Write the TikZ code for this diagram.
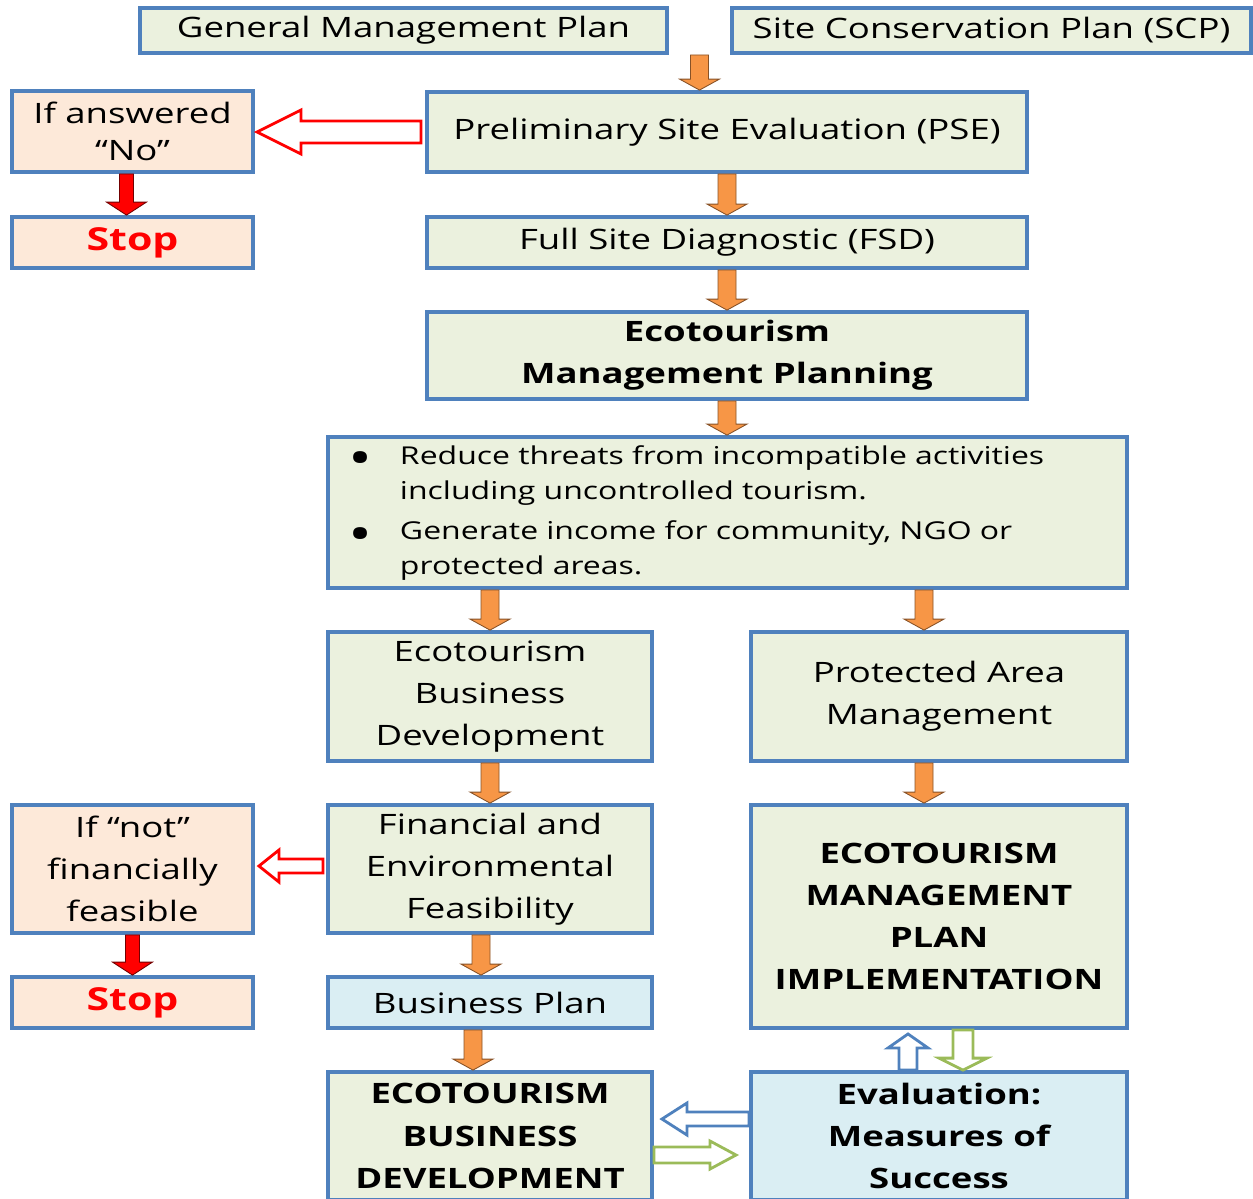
\documentclass[tikz,border=0pt]{standalone}
\usepackage{graphicx}
\usepackage{fontspec}
\setmainfont{Open Sans}[FakeStretch=1.3]
\usetikzlibrary{calc}

\definecolor{boxblue}{HTML}{4F81BD}
\definecolor{boxgreen}{HTML}{EBF1DE}
\definecolor{boxpeach}{HTML}{FDE9D9}
\definecolor{boxcyan}{HTML}{DAEEF3}
\definecolor{arrorange}{HTML}{F79646}
\definecolor{arrgreen}{HTML}{9BBB59}

\newcommand{\bigbullet}{\smash{\raisebox{-0.45em}{\scalebox{2}{\textbullet}}}}

\tikzset{
  shaftw/.store in=\shaftw, headw/.store in=\headw, headl/.store in=\headl,
  shaftw=0.18cm, headw=0.4cm, headl=0.22cm,
  % block arrow between two points
  blockarrow/.style={to path={
    let \p1=(\tikztostart), \p2=(\tikztotarget),
        \p3=($(\p2)!\headl!(\p1)$) in
    ($(\p1)!\shaftw!90:(\p2)$) -- ($(\p3)!\shaftw!90:(\p2)$)
    -- ($(\p3)!\headw!90:(\p2)$) -- (\p2)
    -- ($(\p3)!\headw!-90:(\p2)$) -- ($(\p3)!\shaftw!-90:(\p2)$)
    -- ($(\p1)!\shaftw!-90:(\p2)$) -- cycle}},
  orangearr/.style={blockarrow, fill=arrorange, draw=arrorange!55!black, line width=0.5pt},
  redarr/.style={blockarrow, fill=red, draw=red!45!black, line width=0.5pt,
    shaftw=0.14cm, headw=0.4cm, headl=0.26cm},
  hollow/.style={blockarrow, fill=white, line width=1.6pt},
  box/.style={draw=boxblue, line width=2.2pt, align=center, inner sep=0pt,
    font=\fontsize{16}{24}\selectfont},
  greenbox/.style={box, fill=boxgreen},
  peachbox/.style={box, fill=boxpeach},
  cyanbox/.style={box, fill=boxcyan},
  boldtxt/.style={font=\fontsize{16}{24}\selectfont\bfseries},
  stoptxt/.style={font=\fontsize{18}{24}\selectfont\bfseries, text=red},
  wh/.style 2 args={minimum width=#1*0.02cm, minimum height=#2*0.02cm}
}

\begin{document}
\begin{tikzpicture}[x=0.02cm, y=-0.02cm]
  \useasboundingbox (0,0) rectangle (1253,1198);

  % top row
  \node[greenbox, wh={527}{45}] (gmp) at (403.5,30.5) {General Management Plan};
  \node[greenbox, wh={519}{45}] (scp) at (991.5,30.5) {Site Conservation Plan (SCP)};

  \node[greenbox, wh={600}{80}] (pse) at (727,132) {Preliminary Site Evaluation (PSE)};
  \node[peachbox, wh={241}{81}, font=\fontsize{16}{21}\selectfont] (ifno) at (132.5,131.5) {If answered\\“No”};
  \node[peachbox, wh={241}{51}, stoptxt] (stopa) at (132.5,242.5) {Stop};
  \node[greenbox, wh={600}{51}] (fsd) at (727,242.5) {Full Site Diagnostic (FSD)};
  \node[greenbox, wh={600}{87}, boldtxt] (emp) at (727,355.5) {Ecotourism\\Management Planning};

  \node[greenbox, wh={799}{151}, align=left, text width=759*0.02cm, inner xsep=0.4cm,
    font=\fontsize{14}{19.9}\selectfont] (bul) at (727.5,512.5)
    {\begin{tabular}{@{}p{1.04cm}@{}l@{}}
      \bigbullet & Reduce threats from incompatible activities\\
                 & including uncontrolled tourism.\\[0.12cm]
      \bigbullet & Generate income for community, NGO or\\
                 & protected areas.
     \end{tabular}};

  % two columns
  \node[greenbox, wh={324}{129}] (ebd) at (490,696.5) {Ecotourism\\Business\\Development};
  \node[greenbox, wh={376}{129}] (pam) at (939,696.5) {Protected Area\\Management};
  \node[greenbox, wh={324}{128}] (fef) at (490,869) {Financial and\\Environmental\\Feasibility};
  \node[peachbox, wh={241}{128}] (ifnot) at (132.5,869) {If “not”\\financially\\feasible};
  \node[peachbox, wh={241}{51}, stoptxt] (stopb) at (132.5,1002.5) {Stop};
  \node[cyanbox, wh={324}{51}] (bp) at (490,1002.5) {Business Plan};
  \node[greenbox, wh={376}{223}, boldtxt] (empi) at (939,916.5)
    {ECOTOURISM\\MANAGEMENT\\PLAN\\IMPLEMENTATION};
  \node[greenbox, wh={324}{128}, boldtxt] (ebdb) at (490,1136) {ECOTOURISM\\BUSINESS\\DEVELOPMENT};
  \node[cyanbox, wh={376}{128}, boldtxt] (eval) at (939,1136) {Evaluation:\\Measures of\\Success};

  % helper points
  \coordinate (gs) at ($(gmp.south east)!0.5!(scp.south west)$);
  \coordinate (pa) at ($(pam.north)+(-15,0)$);
  \coordinate (pb) at ($(pam.south)+(-15,0)$);
  \coordinate (fb) at ($(fef.south)+(-9,0)$);
  \coordinate (bb) at ($(bp.south)+(-17,0)$);
  \coordinate (na) at ($(ifno.south)+(-6,0)$);
  \coordinate (eu) at ($(eval.north)+(-31,0)$);
  \coordinate (ed) at ($(empi.south)+(24,0)$);
  \coordinate (el) at ($(eval.west)+(0,-17)$);
  \coordinate (er) at ($(ebdb.east)+(0,19)$);

  % orange flow arrows
  \draw[orangearr] (gs) to (gs |- pse.north);
  \draw[orangearr] (pse.south) to (fsd.north);
  \draw[orangearr] (fsd.south) to (emp.north);
  \draw[orangearr] (emp.south) to (emp.south |- bul.north);
  \draw[orangearr] (ebd.north |- bul.south) to (ebd.north);
  \draw[orangearr] (pa |- bul.south) to (pa);
  \draw[orangearr] (ebd.south) to (fef.north);
  \draw[orangearr] (pb) to (pb |- empi.north);
  \draw[orangearr] (fb) to (fb |- bp.north);
  \draw[orangearr] (bb) to (bb |- ebdb.north);

  % red arrows
  \draw[redarr] (na) to (na |- stopa.north);
  \draw[redarr] (ifnot.south) to (stopb.north);
  \draw[hollow, draw=red, shaftw=0.22cm, headw=0.44cm, headl=0.88cm]
    ($(pse.west)+(-4,0)$) to ($(pse.west -| ifno.east)+(2,0)$);
  \draw[hollow, draw=red, shaftw=0.14cm, headw=0.32cm, headl=0.4cm]
    ($(fef.west)+(-3,-3)$) to ($(fef.west -| ifnot.east)+(4,-3)$);

  % evaluation loop
  \draw[hollow, draw=boxblue, shaftw=0.18cm, headw=0.4cm, headl=0.28cm]
    (eu) to ($(eu |- empi.south)+(0,4)$);
  \draw[hollow, draw=arrgreen, shaftw=0.2cm, headw=0.48cm, headl=0.24cm]
    (ed) to (ed |- eval.north);
  \draw[hollow, draw=boxblue, shaftw=0.14cm, headw=0.32cm, headl=0.5cm]
    (el) to ($(el -| ebdb.east)+(8,0)$);
  \draw[hollow, draw=arrgreen, shaftw=0.16cm, headw=0.28cm, headl=0.52cm]
    (er) to ($(er -| eval.west)+(-13,0)$);
\end{tikzpicture}
\end{document}
